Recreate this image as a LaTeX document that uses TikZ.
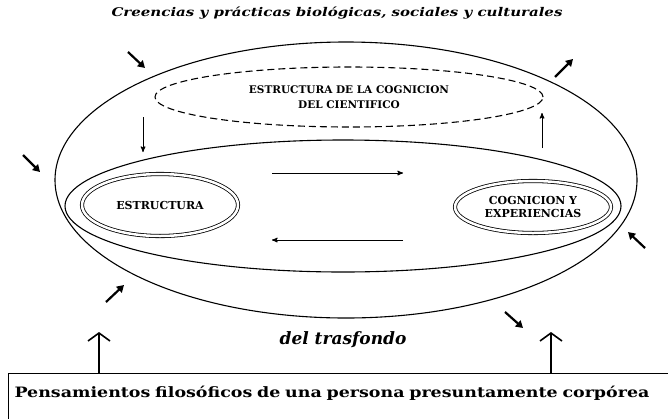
\documentclass[tikz,border=0pt]{standalone}
\usepackage{fontspec}
\setmainfont{DejaVu Serif}
\newfontfamily\widefont{DejaVu Serif}[FakeStretch=1.22]
\newfontfamily\titlefont{DejaVu Serif}[FakeStretch=1.25]
\usetikzlibrary{positioning,shapes,arrows,arrows.meta}

\begin{document}
\begin{tikzpicture}[x=1pt, y=-1pt, >=stealth']
  \useasboundingbox (0,0) rectangle (668,418);

  \tikzset{region/.style={draw, ellipse, line width=1.1pt, inner sep=0pt}}
  \tikzset{inner_node/.style={draw, ellipse, double, double distance=2.5pt, line width=0.8pt,
      inner sep=0pt, align=center, font=\bfseries\fontsize{11}{13}\selectfont}}
  \tikzset{flow/.style={->, line width=1pt}}
  \tikzset{push/.style={-{Triangle[length=7pt,width=8pt]}, line width=2.2pt}}
  \tikzset{lift/.style={-{Straight Barb[length=8pt,width=22pt]}, line width=1.6pt}}

  % title
  \node[font=\titlefont\bfseries\itshape\fontsize{12}{14}\selectfont] (title) at (337,13)
    {Creencias y prácticas biológicas, sociales y culturales};

  % ellipses
  \node[region, minimum width=582pt, minimum height=276pt] (outer) at (346,180) {};
  \node[region, minimum width=556pt, minimum height=132pt] (middle) at (343,206) {};
  \node[region, dash pattern=on 7pt off 4pt, minimum width=388pt, minimum height=60pt, align=center,
      font=\bfseries\fontsize{10.5}{15}\selectfont] (cientifico) at (349,97)
    {ESTRUCTURA DE LA COGNICION\\DEL CIENTIFICO};
  \node[inner_node, minimum width=156pt, minimum height=62pt] (estructura) at (160,205) {ESTRUCTURA};
  \node[inner_node, minimum width=156pt, minimum height=52pt] (cognicion) at (533,207)
    {COGNICION Y\\EXPERIENCIAS};

  \node[font=\bfseries\itshape\fontsize{17}{19}\selectfont] (trasfondo) at (343,340) {del trasfondo};

  % box
  \node[draw, line width=1pt, anchor=north west, minimum width=668pt, inner xsep=4pt, inner ysep=7pt,
      text height=17pt, text depth=30pt, text width=656pt, font=\widefont\bfseries\fontsize{14.3}{16}\selectfont]
    (pensamientos) at (8,373) {Pensamientos filosóficos de una persona presuntamente corpórea};

  % inner arrows
  \coordinate (ida_a) at (272,173);
  \coordinate (ida_b) at (403,173);
  \coordinate (vuelta_a) at (403,240);
  \coordinate (vuelta_b) at (272,240);
  \draw[flow] (ida_a) -- (ida_b);
  \draw[flow] (vuelta_a) -- (vuelta_b);
  \draw[flow] (143,117) -- (143,152);
  \draw[flow] (542,148) -- (542,113);

  % arrows round the outer ellipse
  \draw[push] (128,52) -- (145,68);
  \draw[push] (23,155) -- (40,172);
  \draw[push] (555,77) -- (573,59);
  \draw[push] (645,248) -- (628,232);
  \draw[push] (505,312) -- (523,328);
  \draw[push] (106,302) -- (124,285);

  % arrows from the box
  \draw[lift] ([xshift=91pt]pensamientos.north west) -- ++(0,-41);
  \draw[lift] ([xshift=543pt]pensamientos.north west) -- ++(0,-41);
\end{tikzpicture}
\end{document}
